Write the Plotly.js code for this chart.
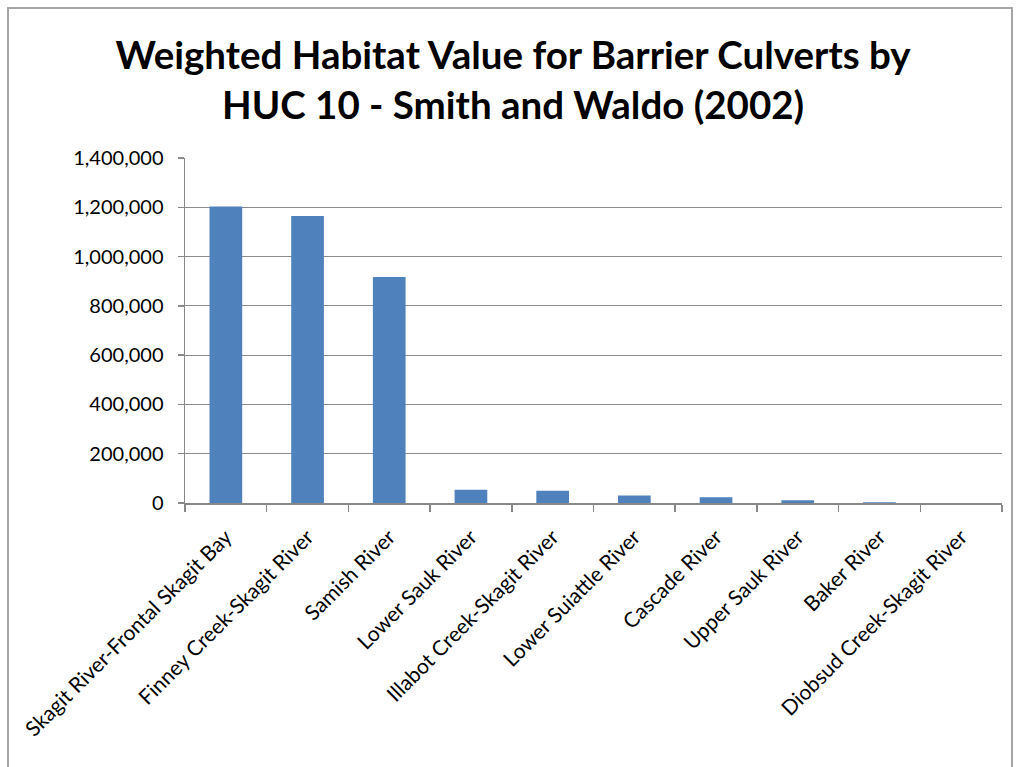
<!DOCTYPE html>
<html>
<head>
<meta charset="utf-8">
<script src="https://cdn.plot.ly/plotly-3.0.1.min.js"></script>
<style>
html,body{margin:0;padding:0;background:#fff;}
#chart{width:1016px;height:767px;}
</style>
</head>
<body>
<div id="chart"></div>
<script>
var categories = [
  "Skagit River-Frontal Skagit Bay",
  "Finney Creek-Skagit River",
  "Samish River",
  "Lower Sauk River",
  "Illabot Creek-Skagit River",
  "Lower Suiattle River",
  "Cascade River",
  "Upper Sauk River",
  "Baker River",
  "Diobsud Creek-Skagit River"
];
var habitatValues = [1203000, 1165000, 917000, 54000, 50000, 30000, 23000, 11000, 3000, 300];
var yTickValues = [0, 200000, 400000, 600000, 800000, 1000000, 1200000, 1400000];
var yTickLabels = ["0", "200,000", "400,000", "600,000", "800,000", "1,000,000", "1,200,000", "1,400,000"];

var fontFam = "Lato, 'Open Sans', sans-serif";

var trace = {
  type: "bar",
  x: categories,
  y: habitatValues,
  marker: {color: "#4F81BD", line: {width: 0}},
  hoverinfo: "x+y"
};

var layout = {
  width: 1016,
  height: 767,
  margin: {l: 185, r: 14, t: 158, b: 264},
  paper_bgcolor: "#ffffff",
  plot_bgcolor: "#ffffff",
  showlegend: false,
  bargap: 0.6,
  title: {
    text: "Weighted Habitat Value for Barrier Culverts by<br>HUC 10 - Smith and Waldo (2002)",
    font: {family: fontFam, size: 38.5, color: "#000000", weight: "bold"},
    x: 0.505, xanchor: "center",
    y: 0.91, yanchor: "middle"
  },
  xaxis: {
    type: "category",
    tickson: "boundaries",
    ticks: "outside",
    ticklen: 7,
    tickcolor: "#888888",
    tickwidth: 1.5,
    showline: true,
    linecolor: "#888888",
    linewidth: 1.5,
    showgrid: false,
    tickangle: -45,
    ticklabelstandoff: 12,
    tickfont: {family: fontFam, size: 21, color: "#000000"},
    fixedrange: true
  },
  yaxis: {
    range: [0, 1400000],
    tickvals: yTickValues,
    ticktext: yTickLabels,
    ticks: "outside",
    ticklen: 6,
    tickcolor: "#888888",
    tickwidth: 1.5,
    showline: true,
    linecolor: "#888888",
    linewidth: 1.5,
    showgrid: true,
    gridcolor: "#8c8c8c",
    gridwidth: 1,
    zeroline: false,
    ticklabelstandoff: 10,
    tickfont: {family: fontFam, size: 20, color: "#000000"},
    fixedrange: true
  },
  shapes: [{
    type: "rect",
    xref: "paper", yref: "paper",
    x0: -177/817, x1: 1012/817 - 185/817,
    y0: -1, y1: (767 - 264 - 8) / 345,
    line: {color: "#a6a6a6", width: 2},
    fillcolor: "rgba(0,0,0,0)",
    layer: "below"
  }]
};

Plotly.newPlot("chart", [trace], layout, {displayModeBar: false, staticPlot: true});
</script>
</body>
</html>
